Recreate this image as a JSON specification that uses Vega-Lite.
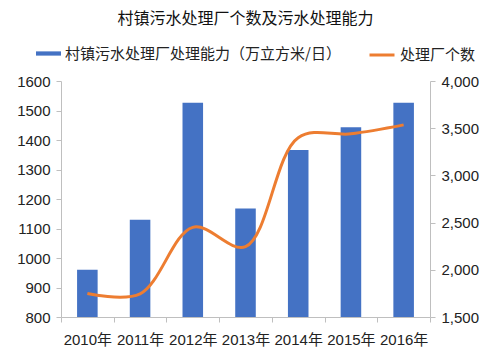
{
  "$schema": "https://vega.github.io/schema/vega-lite/v6.json",
  "width": 369,
  "height": 236,
  "autosize": {"type": "none"},
  "padding": {"left": 61, "top": 81, "right": 70, "bottom": 45},
  "background": "white",
  "title": {
    "text": "村镇污水处理厂个数及污水处理能力",
    "font": "Noto Sans CJK SC",
    "fontSize": 16,
    "fontWeight": "normal",
    "color": "#111",
    "anchor": "middle",
    "frame": "group",
    "offset": 14
  },
  "config": {
    "view": {"stroke": null},
    "axis": {
      "domainColor": "#bfbfbf",
      "tickColor": "#bfbfbf",
      "tickSize": 5,
      "labelFont": "Liberation Sans, Noto Sans CJK SC",
      "labelFontSize": 15,
      "labelColor": "#222",
      "labelPadding": 6,
      "grid": false,
      "title": null
    }
  },
  "data": {
    "values": [
      {"year": "2010年", "capacity": 960, "count": 1748},
      {"year": "2011年", "capacity": 1130, "count": 1745},
      {"year": "2012年", "capacity": 1526, "count": 2450},
      {"year": "2013年", "capacity": 1168, "count": 2245},
      {"year": "2014年", "capacity": 1366, "count": 3400},
      {"year": "2015年", "capacity": 1443, "count": 3440},
      {"year": "2016年", "capacity": 1526, "count": 3535}
    ]
  },
  "encoding": {
    "x": {
      "field": "year",
      "type": "ordinal",
      "sort": null,
      "scale": {"paddingInner": 0, "paddingOuter": 0},
      "axis": {"labelAngle": 0, "tickBand": "extent", "labelPadding": 10}
    }
  },
  "layer": [
    {
      "mark": {"type": "bar", "width": {"band": 0.39}},
      "encoding": {
        "y": {
          "field": "capacity",
          "type": "quantitative",
          "scale": {"domain": [800, 1600], "zero": false},
          "axis": {"format": "d", "values": [800, 900, 1000, 1100, 1200, 1300, 1400, 1500, 1600]}
        },
        "y2": {"datum": 800},
        "fill": {
          "datum": "村镇污水处理厂处理能力（万立方米/日）",
          "scale": {"range": ["#4472C4"]},
          "legend": {
            "title": null,
            "orient": "none",
            "legendX": -25,
            "legendY": -40,
            "padding": 0,
            "symbolType": "M-1,-0.17L1,-0.17L1,0.17L-1,0.17Z",
            "symbolSize": 625,
            "symbolStrokeWidth": 0,
            "labelFont": "Noto Sans CJK SC",
            "labelFontSize": 15,
            "labelColor": "#222",
            "labelOffset": 4,
            "labelLimit": 0
          }
        }
      }
    },
    {
      "mark": {"type": "line", "strokeWidth": 3, "interpolate": "catmull-rom"},
      "encoding": {
        "y": {
          "field": "count",
          "type": "quantitative",
          "scale": {"domain": [1500, 4000], "zero": false},
          "axis": {"orient": "right", "format": ",d", "values": [1500, 2000, 2500, 3000, 3500, 4000]}
        },
        "stroke": {
          "datum": "处理厂个数",
          "scale": {"range": ["#ED7D31"]},
          "legend": {
            "title": null,
            "orient": "none",
            "legendX": 307,
            "legendY": -40,
            "padding": 0,
            "symbolType": "stroke",
            "symbolSize": 625,
            "symbolStrokeWidth": 3,
            "labelFont": "Noto Sans CJK SC",
            "labelFontSize": 15,
            "labelColor": "#222",
            "labelOffset": 4,
            "labelLimit": 0
          }
        }
      }
    }
  ],
  "resolve": {"scale": {"y": "independent", "fill": "independent", "stroke": "independent"}}
}
